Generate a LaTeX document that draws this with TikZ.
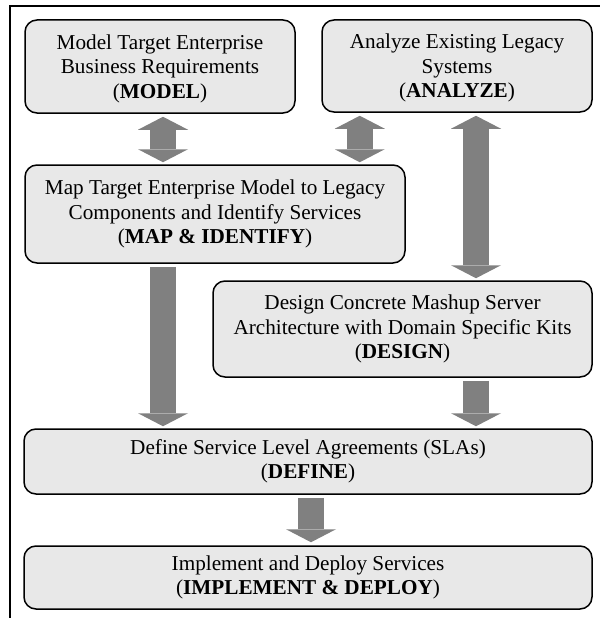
\documentclass[tikz,border=0pt]{standalone}
\usepackage{fontspec}
\setmainfont{Liberation Serif}
\usetikzlibrary{arrows.meta}

\definecolor{phasefill}{HTML}{E8E8E8}
\definecolor{arrowgray}{HTML}{808080}

\begin{document}
\begin{tikzpicture}
	[
		x=1pt, y=-1pt,
		every node/.style = {font=\fontsize{21.2}{24.4}\selectfont},
		phase/.style = {shape=rectangle, draw=black, line width=1.5pt, fill=phasefill,
			rounded corners=12pt, inner sep=0pt, align=center, anchor=center},
		bigarrow/.style = {draw=arrowgray, line width=26pt,
			-{Triangle[width=50pt, length=13pt, line width=0pt]}},
		bigboth/.style = {bigarrow,
			{Triangle[width=50pt, length=13pt, line width=0pt]}-{Triangle[width=50pt, length=13pt, line width=0pt]}}
	]
	
	\useasboundingbox (0,0) rectangle (600,618);
	
	% frame
	\draw[line width=1.5pt] (10,618) -- (10,6) -- (600,6);
	
	% phases
	\node (model) [phase, minimum width=270pt, minimum height=93pt, text height=68pt] at (160,66.5)
		{Model Target Enterprise\\Business Requirements\\(\textbf{MODEL})};
	\node (analyze) [phase, minimum width=270pt, minimum height=92pt, text height=68pt] at (457,66)
		{Analyze Existing Legacy\\Systems\\(\textbf{ANALYZE})};
	\node (map) [phase, minimum width=380pt, minimum height=98pt] at (215,214)
		{Map Target Enterprise Model to Legacy\\Components and Identify Services\\(\textbf{MAP \& IDENTIFY})};
	\node (design) [phase, minimum width=379pt, minimum height=96pt] at (402.5,329)
		{Design Concrete Mashup Server\\Architecture with Domain Specific Kits\\(\textbf{DESIGN})};
	\node (define) [phase, minimum width=568pt, minimum height=65pt] at (308,461.5)
		{Define Service Level Agreements (SLAs)\\(\textbf{DEFINE})};
	\node (implement) [phase, minimum width=568pt, minimum height=63pt] at (308,577.5)
		{Implement and Deploy Services\\(\textbf{IMPLEMENT \& DEPLOY})};
	
	\coordinate (lcol) at ([xshift=3pt]model.south);
	\coordinate (mcol) at ([xshift=-46pt]map.north east);
	\coordinate (rcol) at ([xshift=19pt]analyze.south);
	
	% arrows
	\draw[bigboth, shorten <=3pt, shorten >=2pt] (lcol) -- (lcol |- map.north);
	\draw[bigboth, shorten <=3pt, shorten >=2pt] (mcol |- analyze.south) -- (mcol);
	\draw[bigboth, shorten <=3pt, shorten >=2pt] (rcol) -- (rcol |- design.north);
	\draw[bigarrow, shorten <=3pt, shorten >=2pt] (lcol |- map.south) -- (lcol |- define.north);
	\draw[bigarrow, shorten <=3pt, shorten >=2pt] (rcol |- design.south) -- (rcol |- define.north);
	\draw[bigarrow, shorten <=3pt, shorten >=3pt] ([xshift=3pt]define.south) -- ([xshift=3pt]define.south |- implement.north);
	
\end{tikzpicture}
\end{document}
